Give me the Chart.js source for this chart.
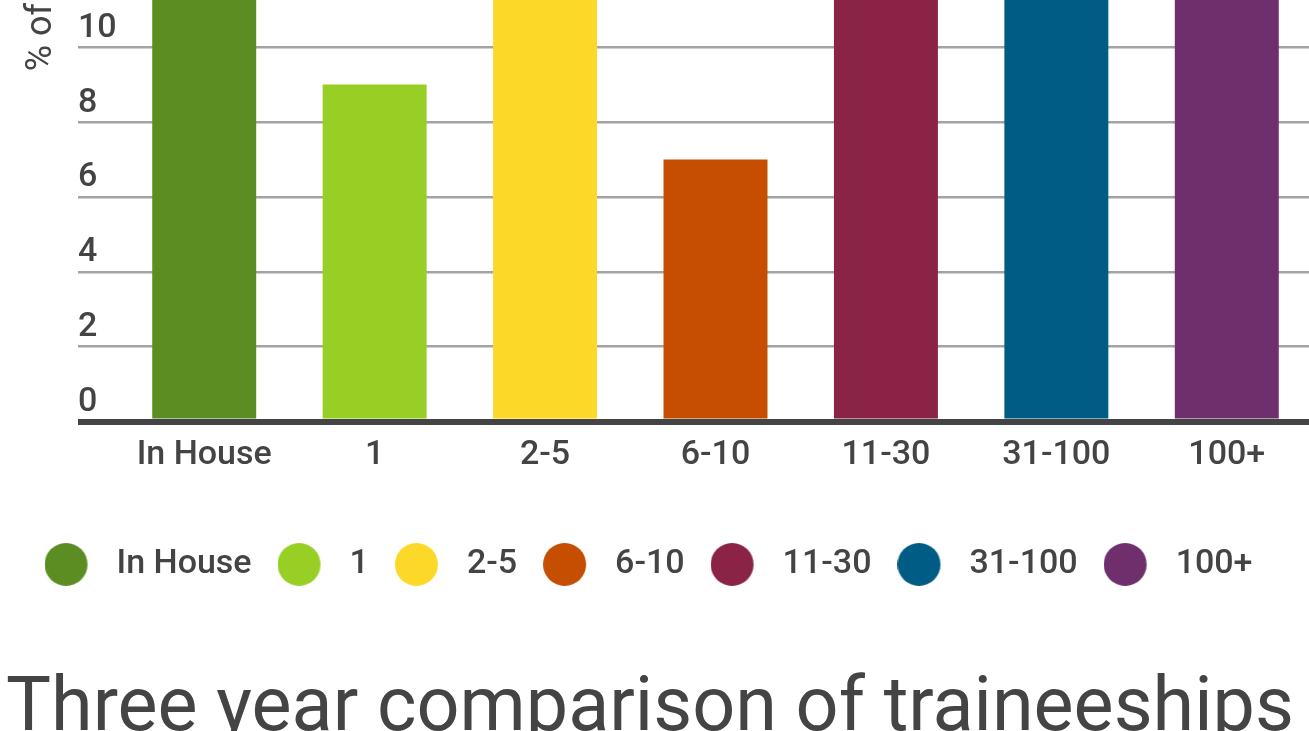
<!DOCTYPE html>
<html>
<head>
<meta charset="utf-8">
<script src="https://cdn.jsdelivr.net/npm/chart.js@4/dist/chart.umd.min.js"></script>
<style>
  html, body { margin: 0; padding: 0; background: #fff; overflow: hidden; }
  #wrap { position: absolute; left: 0; top: -600px; width: 1312px; height: 1366px; }
</style>
</head>
<body>
<div id="wrap"><canvas id="myChart" width="1312" height="1366"></canvas></div>
<script>
var categories = ['In House', '1', '2-5', '6-10', '11-30', '31-100', '100+'];
var shares = [22, 9, 16, 7, 14, 12, 20];
var barColors = ['#5b8d23', '#98cf24', '#fcd928', '#c54e00', '#8a2346', '#005c84', '#6e2f6c'];
var yTitle = '% of traineeships';
var chartTitle = 'Three year comparison of traineeships';

var ink = '#444444';
var font = 'Roboto';

// round legend marker, circle sits left in a wider canvas to space out text
function dot(color) {
  var c = document.createElement('canvas');
  c.width = 76; c.height = 43;
  var g = c.getContext('2d');
  g.fillStyle = color;
  g.beginPath();
  g.arc(21.5, 21.5, 21.5, 0, Math.PI * 2);
  g.fill();
  return c;
}

var ctx = document.getElementById('myChart').getContext('2d');
var myChart = new Chart(ctx, {
  type: 'bar',
  data: {
    labels: categories,
    datasets: [{
      label: yTitle,
      data: shares,
      backgroundColor: barColors,
      borderWidth: 0,
      categoryPercentage: 1,
      barPercentage: 0.61
    }]
  },
  options: {
    responsive: false,
    animation: false,
    devicePixelRatio: 1,
    layout: { padding: { top: 48, left: 6, right: 0, bottom: 0 } },
    plugins: {
      tooltip: { enabled: false },
      legend: {
        position: 'bottom',
        labels: {
          usePointStyle: true,
          boxWidth: 34,
          boxHeight: 34,
          padding: 47,
          color: ink,
          font: { family: font, size: 34, weight: 500 },
          generateLabels: function (chart) {
            return categories.map(function (cat, i) {
              return {
                text: cat,
                fillStyle: barColors[i],
                strokeStyle: barColors[i],
                lineWidth: 0,
                pointStyle: dot(barColors[i]),
                hidden: false,
                index: i,
                fontColor: ink
              };
            });
          }
        }
      },
      title: {
        display: true,
        text: chartTitle,
        position: 'bottom',
        align: 'start',
        color: ink,
        font: { family: font, size: 75.5, weight: 400 },
        padding: { top: 74, bottom: 10 }
      }
    },
    scales: {
      x: {
        grid: { display: false, drawTicks: false },
        border: { display: false },
        ticks: { color: ink, padding: 13, font: { family: font, size: 34, weight: 500 } },
        afterFit: function (scale) { scale.height += 12; }
      },
      y: {
        min: 0,
        max: 26,
        border: { display: false },
        grid: {
          tickLength: 41,
          color: function (c) { return c.tick && c.tick.value === 0 ? ink : '#a3a3a3'; },
          lineWidth: function (c) { return c.tick && c.tick.value === 0 ? 6 : 2.5; }
        },
        ticks: {
          stepSize: 2,
          mirror: true,
          padding: -41,
          labelOffset: -19,
          color: ink,
          font: { family: font, size: 34, weight: 500 }
        },
        title: {
          display: true,
          text: yTitle,
          color: ink,
          font: { family: font, size: 36, weight: 400 },
          padding: { top: 14, bottom: 0 }
        },
        afterFit: function (scale) { scale.width = 113; }
      }
    }
  }
});
</script>
</body>
</html>
